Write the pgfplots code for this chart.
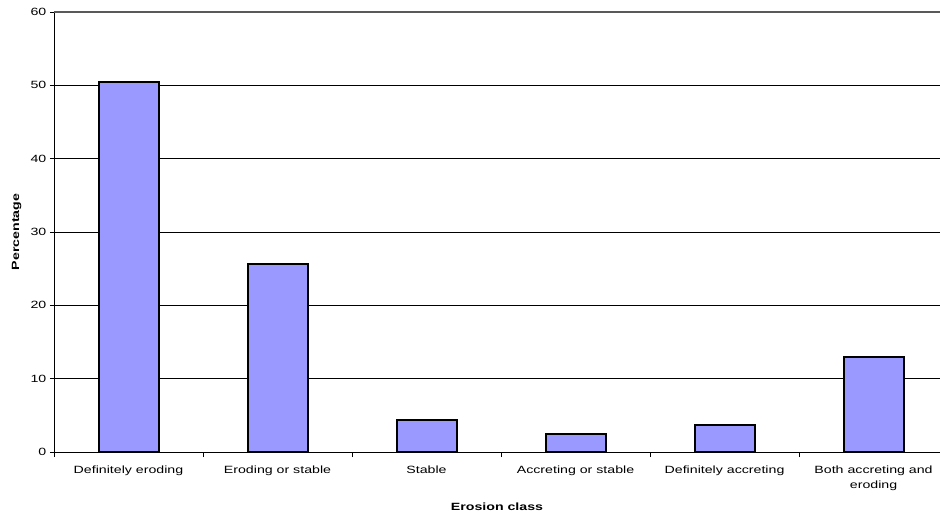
\documentclass[border=0pt]{standalone}
\usepackage{pgfplots}
\pgfplotsset{compat=1.18}
\usepackage{fontspec}
\setmainfont{Liberation Sans}[FakeStretch=1.35]
\definecolor{barblue}{HTML}{9999FF}
\begin{document}
\fontsize{10.5}{12.5}\selectfont
\begin{tikzpicture}
\useasboundingbox (-54pt,-63pt) rectangle (886pt,452pt);
\begin{axis}[
  at={(0pt,0pt)}, anchor=south west,
  scale only axis, width=886pt, height=440pt,
  xmin=-0.5, xmax=5.446, ymin=0, ymax=60,
  axis lines=left, axis line style={-, black, line width=0.8pt},
  ytick={0,10,...,60},
  ymajorgrids, grid style={black, line width=0.5pt},
  y tick style={black, line width=0.6pt}, major tick length=4pt,
  tick align=outside,
  xtick={0,1,2,3,4,5},
  xticklabels={Definitely eroding, Eroding or stable, Stable, Accreting or stable, Definitely accreting, {Both accreting and\\eroding}},
  x tick style={draw=none},
  extra x ticks={-0.5,0.5,1.5,2.5,3.5,4.5},
  extra x tick labels={},
  extra x tick style={x tick style={draw=black, line width=0.6pt}, grid=none, major tick length=5pt},
  xticklabel style={align=center, font=\fontsize{10.5}{15}\selectfont, yshift=-6pt},
  yticklabel style={font=\fontsize{10.5}{12}\selectfont},
  /pgf/number format/assume math mode=true,
  xlabel={\bfseries Erosion class},
  ylabel={\bfseries Percentage},
  xlabel style={yshift=4pt},
  ylabel style={yshift=2pt},
  clip=false,
]
\addplot[ybar, bar width=60pt, fill=barblue, draw=black, line width=2pt]
  coordinates {(0,50.4) (1,25.6) (2,4.3) (3,2.5) (4,3.7) (5,13.0)};
\draw[gray!70!black, line width=1.5pt] (rel axis cs:0,1) -- (rel axis cs:1,1);
\end{axis}
\end{tikzpicture}
\end{document}
